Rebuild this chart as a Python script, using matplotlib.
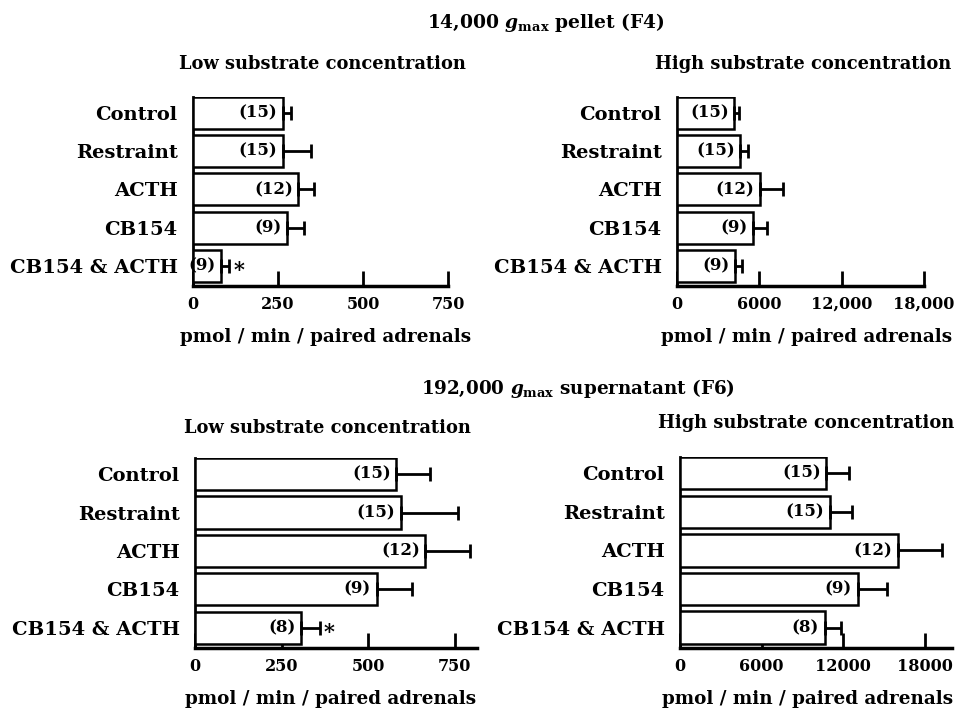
import matplotlib
matplotlib.use("Agg")
import matplotlib.pyplot as plt
import numpy as np

plt.rcParams['font.family'] = 'DejaVu Serif'
plt.rcParams['font.weight'] = 'bold'
plt.rcParams['mathtext.fontset'] = 'custom'
plt.rcParams['mathtext.rm'] = 'DejaVu Serif:bold'
plt.rcParams['mathtext.it'] = 'DejaVu Serif:bold:italic'
plt.rcParams['mathtext.bf'] = 'DejaVu Serif:bold'

groups = ['Control', 'Restraint', 'ACTH', 'CB154', 'CB154 & ACTH']

# 14,000 g pellet (F4)
f4_low = [265, 265, 310, 277, 83]
f4_low_sem = [24, 83, 47, 50, 24]
f4_high = [4170, 4610, 6070, 5560, 4240]
f4_high_sem = [370, 590, 1690, 1030, 520]
f4_n = [15, 15, 12, 9, 9]

# 192,000 g supernatant (F6)
f6_low = [582, 594, 666, 525, 306]
f6_low_sem = [96, 165, 130, 101, 54]
f6_high = [10770, 11000, 16010, 13060, 10630]
f6_high_sem = [1630, 1620, 3250, 2140, 1180]
f6_n = [15, 15, 12, 9, 8]

low_ticks = [0, 250, 500, 750]
low_ticklabels = ['0', '250', '500', '750']
f4_high_ticks = [0, 6000, 12000, 18000]
f4_high_ticklabels = ['0', '6000', '12,000', '18,000']
f6_high_ticklabels = ['0', '6000', '12000', '18000']

W, H = 958, 711
fig = plt.figure(figsize=(W / 100, H / 100), dpi=100)


def px_axes(x0, x1, ytop, ybot):
    return fig.add_axes([x0 / W, 1 - ybot / H, (x1 - x0) / W, (ybot - ytop) / H])


def panel(ax, means, sems, ns, xmax, ticks, ticklabels, title, title_x, title_pad,
          label_x, star=None):
    y = np.arange(len(groups))
    ax.barh(y, means, height=0.84, color='white', edgecolor='black',
            linewidth=1.8, zorder=3)
    ax.errorbar(means, y, xerr=[np.zeros(len(sems)), sems], fmt='none',
                ecolor='black', elinewidth=2, capsize=5, capthick=2, zorder=4)
    for yi, m, n in zip(y, means, ns):
        ax.annotate('(%d)' % n, (m, yi), xytext=(-4, 0), textcoords='offset points',
                    ha='right', va='center', fontsize=12, fontweight='bold', zorder=5)
    if star is not None:
        i = star
        ax.annotate('*', (means[i] + sems[i], i), xytext=(3, -3),
                    textcoords='offset points', ha='left', va='center',
                    fontsize=15, fontweight='bold')
    ax.set_xlim(0, xmax)
    ax.set_ylim(4.53, -0.42)
    ax.set_yticks(y)
    ax.set_yticklabels(groups, fontsize=14, fontweight='bold')
    ax.tick_params(axis='y', length=0, pad=11)
    ax.set_xticks(ticks)
    ax.set_xticklabels(ticklabels, fontsize=11.5, fontweight='bold')
    ax.tick_params(axis='x', direction='in', length=11, width=2, pad=7)
    for s in ['top', 'right']:
        ax.spines[s].set_visible(False)
    ax.spines['bottom'].set_linewidth(2.5)
    ax.spines['left'].set_linewidth(2)
    ax.set_xlabel('pmol / min / paired adrenals', fontsize=13.2, fontweight='bold',
                  labelpad=11)
    ax.xaxis.label.set_x(label_x)
    t = ax.set_title(title, fontsize=12.9, fontweight='bold', pad=title_pad)
    t.set_x(title_x)
    ax.patch.set_visible(False)


ax1 = px_axes(193, 448, 97, 286)
panel(ax1, f4_low, f4_low_sem, f4_n, 750, low_ticks, low_ticklabels,
      'Low substrate concentration', 0.506, 20, 0.518, star=4)

ax2 = px_axes(677, 924, 97, 286)
panel(ax2, f4_high, f4_high_sem, f4_n, 18000, f4_high_ticks, f4_high_ticklabels,
      'High substrate concentration', 0.51, 20, 0.526)

ax3 = px_axes(195, 477, 458, 648)
panel(ax3, f6_low, f6_low_sem, f6_n, 815, low_ticks, low_ticklabels,
      'Low substrate concentration', 0.468, 18, 0.482, star=4)

ax4 = px_axes(680, 952, 457, 648)
panel(ax4, f6_high, f6_high_sem, f6_n, 20000, f4_high_ticks, f6_high_ticklabels,
      'High substrate concentration', 0.463, 21, 0.47)

fig.text(546 / W, 1 - 22 / H, r'14,000 $g_{\rm max}$ pellet (F4)', ha='center',
         va='center', fontsize=13.4, fontweight='bold')
fig.text(578 / W, 1 - 389 / H, r'192,000 $g_{\rm max}$ supernatant (F6)', ha='center',
         va='center', fontsize=13.2, fontweight='bold')

fig.savefig('out.png', dpi=100)
